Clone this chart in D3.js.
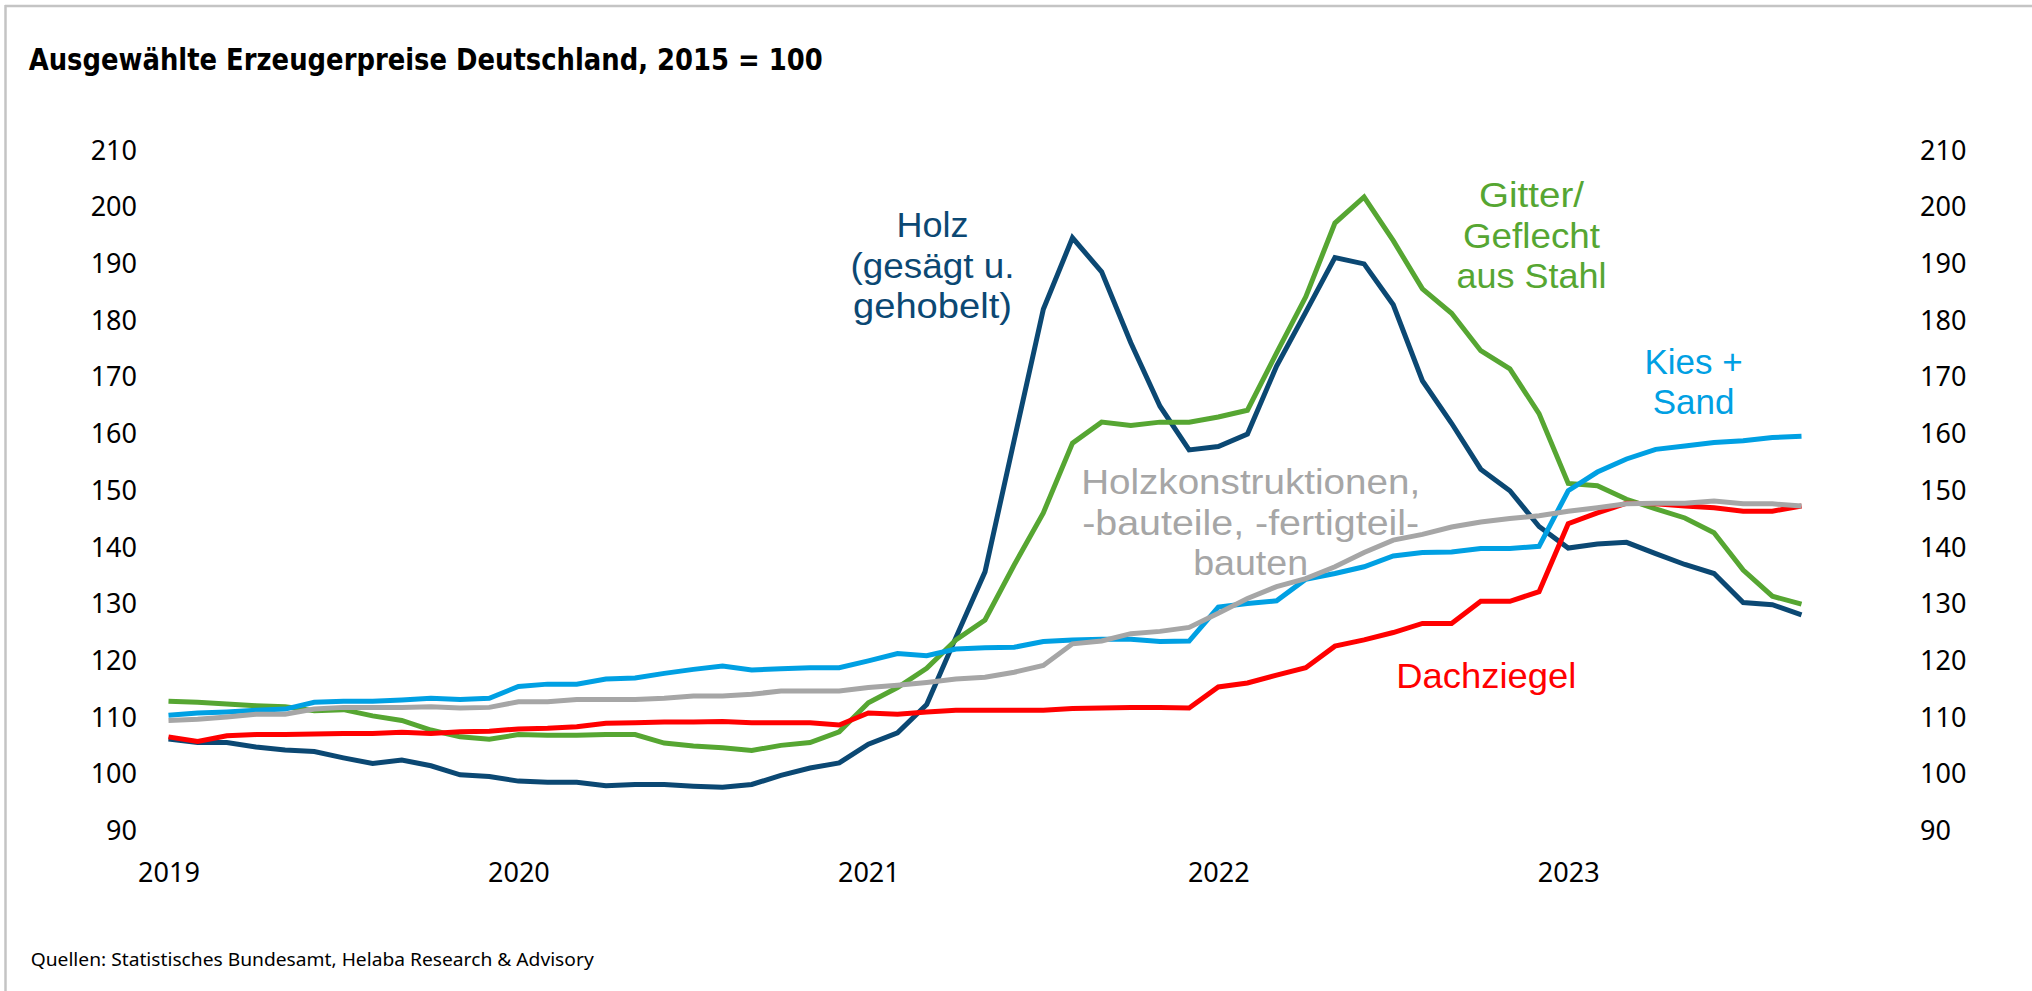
<!DOCTYPE html>
<html>
<head>
<meta charset="utf-8">
<script src="https://cdn.jsdelivr.net/npm/d3@7"></script>
<style>
  html, body { margin: 0; padding: 0; background: #fff; }
  svg { display: block; }
</style>
</head>
<body>
<svg id="chart" width="2032" height="991"></svg>
<script>
// ---------------- DATA (monthly, Jan 2019 – Sep 2023, 2015 = 100) ----------------
const yearLabels = ["2019", "2020", "2021", "2022", "2023"];
const yTickValues = [90, 100, 110, 120, 130, 140, 150, 160, 170, 180, 190, 200, 210];

const holz = [
  106.2, 105.6, 105.6, 104.8, 104.3, 104.0, 102.9, 101.9, 102.5, 101.5, 99.9, 99.6,
  98.8, 98.6, 98.6, 98.0, 98.2, 98.2, 97.9, 97.7, 98.2, 99.8, 101.1, 102.0,
  105.3, 107.3, 112.3, 124.1, 135.7, 158.9, 182.0, 194.6, 188.6, 176.1, 164.9, 157.2,
  157.8, 160.0, 172.0, 181.5, 191.1, 190.0, 182.8, 169.4, 161.9, 153.8, 150.0, 143.7,
  139.9, 140.6, 140.9, 138.9, 137.0, 135.4, 130.3, 129.9, 128.1
];
const gitter = [
  112.9, 112.7, 112.4, 112.1, 111.9, 111.2, 111.4, 110.3, 109.5, 107.8, 106.6, 106.2,
  107.0, 106.9, 106.9, 107.0, 107.0, 105.5, 105.0, 104.7, 104.2, 105.1, 105.6, 107.5,
  112.6, 115.3, 118.7, 123.7, 127.2, 136.9, 146.1, 158.4, 162.1, 161.5, 162.1, 162.1,
  163.0, 164.2, 174.3, 184.2, 197.2, 201.8, 194.1, 185.6, 181.3, 174.7, 171.5, 163.6,
  151.3, 150.9, 148.5, 146.8, 145.2, 142.6, 136.0, 131.4, 130.0
];
const kiesSand = [
  110.4, 110.8, 111.0, 111.3, 111.5, 112.7, 112.9, 112.9, 113.1, 113.4, 113.2, 113.4,
  115.5, 115.9, 115.9, 116.8, 117.0, 117.8, 118.5, 119.1, 118.4, 118.6, 118.8, 118.8,
  120.0, 121.3, 120.9, 122.1, 122.3, 122.4, 123.4, 123.7, 123.8, 123.8, 123.4, 123.5,
  129.5, 130.1, 130.6, 134.4, 135.4, 136.6, 138.5, 139.1, 139.2, 139.8, 139.8, 140.2,
  150.0, 153.3, 155.6, 157.3, 157.9, 158.5, 158.8, 159.4, 159.6
];
const holzkonstruktionen = [
  109.5, 109.7, 110.1, 110.6, 110.6, 111.5, 111.8, 111.8, 111.8, 111.9, 111.7, 111.8,
  112.8, 112.8, 113.2, 113.2, 113.2, 113.4, 113.8, 113.8, 114.1, 114.7, 114.7, 114.7,
  115.3, 115.7, 116.2, 116.8, 117.1, 118.0, 119.2, 123.0, 123.5, 124.8, 125.2, 125.9,
  128.4, 131.0, 133.1, 134.5, 136.6, 139.1, 141.3, 142.3, 143.6, 144.5, 145.1, 145.6,
  146.4, 147.0, 147.7, 147.8, 147.8, 148.2, 147.7, 147.7, 147.3
];
const dachziegel = [
  106.6, 105.8, 106.8, 107.0, 107.0, 107.1, 107.2, 107.2, 107.4, 107.2, 107.5, 107.6,
  108.0, 108.1, 108.4, 109.0, 109.1, 109.2, 109.2, 109.3, 109.1, 109.1, 109.1, 108.7,
  110.8, 110.6, 111.0, 111.3, 111.3, 111.3, 111.3, 111.6, 111.7, 111.8, 111.8, 111.7,
  115.4, 116.1, 117.5, 118.8, 122.6, 123.7, 125.0, 126.6, 126.6, 130.5, 130.5, 132.2,
  144.2, 146.1, 147.8, 147.7, 147.3, 147.0, 146.4, 146.4, 147.3
];

const seriesNames = ["Holz", "Gitter/Geflecht aus Stahl", "Kies + Sand", "Holzkonstruktionen", "Dachziegel"];
const labelLines = [
  ["Holz", "(gesägt u.", "gehobelt)"],
  ["Gitter/", "Geflecht", "aus Stahl"],
  ["Kies +", "Sand"],
  ["Holzkonstruktionen,", "-bauteile, -fertigteil-", "bauten"],
  ["Dachziegel"]
];
const titleText = "Ausgewählte Erzeugerpreise Deutschland, 2015 = 100";
const sourceText = "Quellen: Statistisches Bundesamt, Helaba Research & Advisory";

// ---------------- STYLE / LAYOUT ----------------
const W = 2032, H = 991;
const colors = ["#0b4873", "#56a632", "#00a0e3", "#a6a6a6", "#ff0000"];
const drawOrder = [0, 1, 2, 4, 3];
// label anchors in data coordinates (month index, value of first baseline) + widths
const labelPos = [
  { i: 26.2, v: 194.7, widths: [72, 164, 159] },
  { i: 46.74, v: 200.0, widths: [105, 137, 150] },
  { i: 52.3, v: 170.6, widths: [98, 81] },
  { i: 37.11, v: 149.4, widths: [339, 337, 115] },
  { i: 45.19, v: 115.3, widths: [180] }
];
const lineStep = 40.5;

const svg = d3.select("#chart");
svg.append("rect").attr("width", W).attr("height", H).attr("fill", "#fff");

// frame (top + left)
svg.append("line").attr("x1", 5).attr("x2", W).attr("y1", 6).attr("y2", 6)
  .attr("stroke", "#c4c4c4").attr("stroke-width", 2.5);
svg.append("line").attr("x1", 5.5).attr("x2", 5.5).attr("y1", 5).attr("y2", H)
  .attr("stroke", "#c4c4c4").attr("stroke-width", 2.5);

const nMonths = holz.length;
const x = d3.scaleLinear().domain([0, nMonths - 1]).range([168.5, 1801.5]);
const y = d3.scaleLinear().domain([90, 210]).range([831, 150.5]);

function fitText(sel, target) {
  const node = sel.node();
  const w = node.getComputedTextLength();
  if (target && Math.abs(w - target) > 1) {
    sel.attr("textLength", target).attr("lengthAdjust", "spacingAndGlyphs");
  }
}

// title
const title = svg.append("text")
  .attr("x", 28.7).attr("y", 70)
  .attr("font-family", "'Liberation Sans Narrow', 'DejaVu Sans Condensed', 'Noto Sans', sans-serif")
  .attr("font-weight", "bold").attr("font-size", 30).attr("fill", "#000")
  .text(titleText);
fitText(title, 794);

// axes
const axisFont = "'Noto Sans', 'Open Sans', sans-serif";
const labelFont = "'Liberation Sans', Arial, sans-serif";
const yLeft = svg.append("g").attr("transform", "translate(137,0)")
  .call(d3.axisLeft(y).tickValues(yTickValues).tickSize(0).tickPadding(0).tickFormat(d3.format("d")));
const yRight = svg.append("g").attr("transform", "translate(1920,0)")
  .call(d3.axisRight(y).tickValues(yTickValues).tickSize(0).tickPadding(0).tickFormat(d3.format("d")));
const xAxis = svg.append("g").attr("transform", "translate(0,863)")
  .call(d3.axisBottom(x).tickValues(yearLabels.map((_, k) => k * 12)).tickSize(0).tickPadding(0)
    .tickFormat((d, k) => yearLabels[k]));
[yLeft, yRight, xAxis].forEach(g => {
  g.select(".domain").remove();
  g.selectAll("text").attr("font-family", axisFont).attr("font-size", 27).attr("fill", "#000");
});

// lines
const line = d3.line().x((d, i) => x(i)).y(d => y(d)).curve(d3.curveLinear);
const allSeries = [holz, gitter, kiesSand, holzkonstruktionen, dachziegel];
drawOrder.forEach(k => {
  svg.append("path")
    .datum(allSeries[k])
    .attr("d", line)
    .attr("fill", "none")
    .attr("stroke", colors[k])
    .attr("stroke-width", 5)
    .attr("stroke-linejoin", "miter")
    .attr("stroke-miterlimit", 4)
    .attr("class", "series")
    .append("title").text(seriesNames[k]);
});

// series labels (one text element per label, one tspan per line)
labelLines.forEach((lines, k) => {
  const p = labelPos[k];
  const tx = svg.append("text")
    .attr("text-anchor", "middle")
    .attr("font-family", labelFont)
    .attr("font-size", 35)
    .attr("fill", colors[k]);
  lines.forEach((t, j) => {
    const ts = tx.append("tspan")
      .attr("x", x(p.i))
      .attr("y", y(p.v) + j * lineStep)
      .text(t);
    fitText(ts, p.widths[j]);
  });
});

// source
const src = svg.append("text")
  .attr("x", 30.7).attr("y", 966)
  .attr("font-family", axisFont).attr("font-size", 18).attr("fill", "#000")
  .text(sourceText);
fitText(src, 563);
</script>
</body>
</html>
